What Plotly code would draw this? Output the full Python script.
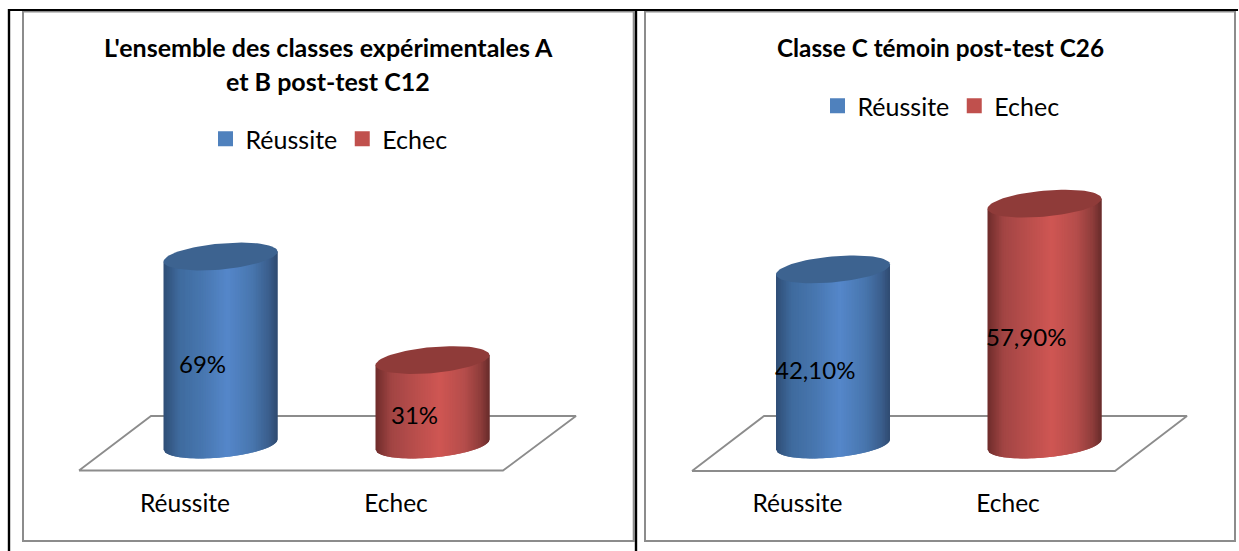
import numpy as np
import plotly.graph_objects as go

W, H = 1239, 551
categories = ["Réussite", "Echec"]
values_left = [69, 31]
values_right = [42.1, 57.9]
labels_left = ["69%", "31%"]
labels_right = ["42,10%", "57,90%"]
title_left = ["L'ensemble des classes expérimentales A", "et B post-test C12"]
title_right = ["Classe C témoin post-test C26"]
body_stops = {
    "blue": [(0, "#2f4d76"), (0.14, "#3f6b9e"), (0.35, "#4877b0"), (0.56, "#5587ca"),
             (0.78, "#4876ae"), (0.92, "#3b5f8e"), (1, "#2f4a70")],
    "red": [(0, "#6e2c2b"), (0.14, "#a24544"), (0.35, "#b94e4c"), (0.56, "#cf5653"),
            (0.78, "#b54d4b"), (0.92, "#8f3d3b"), (1, "#672b2a")],
}
top_color = {"blue": "#3d6390", "red": "#8f3b39"}
legend_color = {"blue": "#4f81bd", "red": "#c0504d"}
series = ["blue", "red"]


def hex2rgb(c):
    return np.array([int(c[i:i + 2], 16) for i in (1, 3, 5)], float)


def shade(stops, f):
    pos = [s[0] for s in stops]
    rgb = np.array([hex2rgb(s[1]) for s in stops])
    v = [np.interp(f, pos, rgb[:, k]) for k in range(3)]
    return "rgb(%d,%d,%d)" % tuple(int(round(a)) for a in v)


panels = [
    dict(xa="x", ya="y", legend="legend", box=(23, 634), top=11, bottom=486, c0=220.5, dx=212,
         y0=444.5, sy=2.724, values=values_left, labels=labels_left,
         floor=[(79, 470.5), (503, 470.5), (576, 416), (151, 416)]),
    dict(xa="x2", ya="y2", legend="legend2", box=(645, 1235), top=11, bottom=486, c0=833, dx=211.5,
         y0=444.5, sy=4.16, values=values_right, labels=labels_right,
         floor=[(692, 471), (1115, 471), (1187, 416), (764, 416)]),
]

fig = go.Figure()
annotations = []
HALF, TILT, MINOR = 57, 5, 13
N = 70

for p in panels:
    sx = p["dx"]
    px2x = lambda px: (px - p["c0"]) / sx
    px2y = lambda py: (p["y0"] - py) / p["sy"]
    fx, fy = zip(*(p["floor"] + [p["floor"][0]]))
    fig.add_trace(go.Scatter(x=[px2x(a) for a in fx], y=[px2y(b) for b in fy], mode="lines",
                             line=dict(color="#8c8c8c", width=1.8), xaxis=p["xa"], yaxis=p["ya"],
                             showlegend=False, hoverinfo="skip"))
    for i, (val, col) in enumerate(zip(p["values"], series)):
        cx = i
        hw = HALF / sx
        edges = np.linspace(-1, 1, N + 1)
        for k in range(N):
            a, b = edges[k], edges[min(k + 2, N)]
            u = np.linspace(a, b, 5)
            lower = TILT * u - MINOR * np.sqrt(np.clip(1 - u ** 2, 0, 1))
            xs = cx + u * hw
            ys_low = lower / p["sy"]
            ys_up = val + TILT * u / p["sy"]
            fig.add_trace(go.Scatter(
                x=np.r_[xs, xs[::-1]], y=np.r_[ys_low, ys_up[::-1]], mode="lines", fill="toself",
                line=dict(width=0), fillcolor=shade(body_stops[col], (k + 0.5) / N),
                xaxis=p["xa"], yaxis=p["ya"], showlegend=False, hoverinfo="skip"))
        t = np.linspace(0, 2 * np.pi, 80)
        fig.add_trace(go.Scatter(
            x=cx + hw * np.cos(t), y=val + (TILT * np.cos(t) + MINOR * np.sin(t)) / p["sy"],
            mode="lines", fill="toself", line=dict(width=0), fillcolor=top_color[col],
            xaxis=p["xa"], yaxis=p["ya"], showlegend=False, hoverinfo="skip"))
        annotations.append(dict(x=cx, y=val / 2, xref=p["xa"], yref=p["ya"], text=p["labels"][i],
                                showarrow=False, xshift=-18.5, yshift=-12.5,
                                font=dict(family="Lato", size=24, color="#000000")))
    for name, col in zip(categories, series):
        fig.add_trace(go.Scatter(x=[None], y=[None], mode="markers", name=name,
                                 marker=dict(symbol="square", size=15, color=legend_color[col]),
                                 xaxis=p["xa"], yaxis=p["ya"], legend=p["legend"]))


def axis_x(p):
    l, r = p["box"]
    return dict(domain=[l / W, r / W], range=[(l - p["c0"]) / p["dx"], (r - p["c0"]) / p["dx"]],
                tickmode="array", tickvals=[-35.5 / p["dx"], 1 - 36.5 / p["dx"]], ticktext=categories,
                ticklen=0, showgrid=False, zeroline=False, showline=False,
                tickfont=dict(family="Lato", size=24.5, color="#000000"))


def axis_y(p):
    return dict(domain=[1 - p["bottom"] / H, 1 - p["top"] / H],
                range=[(p["y0"] - p["bottom"]) / p["sy"], (p["y0"] - p["top"]) / p["sy"]],
                visible=False, showgrid=False, zeroline=False)


def line(x0, y0, x1, y1, color, width):
    return dict(type="line", xref="paper", yref="paper", x0=x0 / W, x1=x1 / W, y0=1 - y0 / H, y1=1 - y1 / H,
                line=dict(color=color, width=width), layer="above")


def title(text, xc, yc, size):
    annotations.append(dict(x=xc / W, y=1 - yc / H, xref="paper", yref="paper", text="<b>%s</b>" % text,
                            showarrow=False, xanchor="center", yanchor="middle",
                            font=dict(family="Lato", size=size, color="#000000")))


title(title_left[0], 328, 47, 25)
title(title_left[1], 328, 81, 25)
title(title_right[0], 940, 47, 24.3)

GR = "#8c8c8c"
shapes = [
    line(23, 11.5, 634, 11.5, GR, 2), line(23, 541, 634, 541, GR, 2),
    line(23, 11, 23, 542, GR, 2), line(633.7, 11, 633.7, 542, GR, 2),
    line(645, 11.5, 1235, 11.5, GR, 2), line(645, 541, 1235, 541, GR, 2),
    line(645, 11, 645, 542, GR, 2), line(1235, 11, 1235, 542, GR, 2),
    line(8, 10, 1238, 10, "#000000", 2),
    line(9, 9, 9, 551, "#000000", 2.4),
    line(636, 9, 636, 551, "#000000", 2.4),
]

legend_common = dict(orientation="h", xanchor="center", yanchor="middle", itemwidth=30,
                     font=dict(family="Lato", size=25, color="#000000"), bgcolor="rgba(0,0,0,0)",
                     itemclick=False, itemdoubleclick=False)

fig.update_layout(
    width=W, height=H, autosize=False, margin=dict(l=0, r=0, t=0, b=0),
    paper_bgcolor="#ffffff", plot_bgcolor="rgba(0,0,0,0)",
    xaxis=axis_x(panels[0]), yaxis=axis_y(panels[0]),
    xaxis2=dict(axis_x(panels[1]), anchor="y2"), yaxis2=dict(axis_y(panels[1]), anchor="x2"),
    legend=dict(legend_common, x=329 / W, y=1 - 139 / H),
    legend2=dict(legend_common, x=941 / W, y=1 - 106 / H),
    annotations=annotations, shapes=shapes, hovermode=False,
)
fig.write_html("out.html", config=dict(displayModeBar=False),
               post_script="document.body.style.margin='0';document.body.style.overflow='hidden';")
